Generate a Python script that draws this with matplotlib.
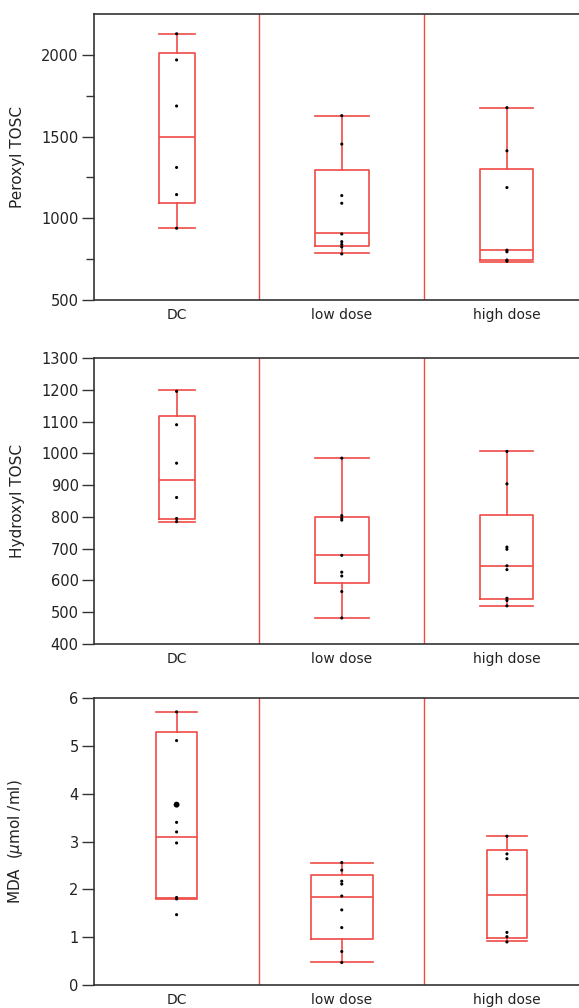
import numpy as np
import matplotlib.pyplot as plt

groups = ["DC", "low dose", "high dose"]

# Peroxyl TOSC
peroxyl_points = [
    [2129, 1969, 1687, 1311, 1145, 939],
    [1628, 1454, 1139, 1092, 904, 857, 840, 825, 782],
    [1677, 1413, 1188, 805, 795, 745, 737],
]
peroxyl_whislo = [939, 785, 735]
peroxyl_q1 = [1096, 830, 742]
peroxyl_med = [1500, 912, 804]
peroxyl_q3 = [2014, 1297, 1301]
peroxyl_whishi = [2129, 1628, 1677]

# Hydroxyl TOSC
hydroxyl_points = [
    [1195, 1090, 969, 861, 795, 785],
    [985, 804, 796, 790, 679, 626, 614, 565, 482],
    [1006, 904, 705, 698, 646, 634, 544, 537, 520],
]
hydroxyl_whislo = [785, 483, 521]
hydroxyl_q1 = [794, 591, 541]
hydroxyl_med = [917, 679, 644]
hydroxyl_q3 = [1116, 800, 807]
hydroxyl_whishi = [1198, 985, 1006]

# MDA
mda_points = [
    [5.71, 5.11, 3.77, 3.40, 3.20, 2.97, 1.83, 1.80, 1.47],
    [2.56, 2.40, 2.17, 2.11, 1.86, 1.57, 1.20, 0.70, 0.47],
    [3.11, 2.74, 2.64, 1.10, 1.01, 0.90],
]
mda_whislo = [1.80, 0.48, 0.92]
mda_q1 = [1.82, 0.97, 0.98]
mda_med = [3.10, 1.84, 1.88]
mda_q3 = [5.29, 2.29, 2.83]
mda_whishi = [5.71, 2.56, 3.12]

RED = "#f04a45"
SPINE = "#333333"
plt.rcParams["font.family"] = "DejaVu Sans"
plt.rcParams["font.size"] = 10

fig = plt.figure(figsize=(5.79, 10.08), dpi=100)
W, H = 579.0, 1008.0


def panel(top, bottom, points, wlo, q1, med, q3, whi, widths, ylim, yticks, minor, ylabel):
    ax = fig.add_axes([94 / W, 1 - bottom / H, (589.5 - 94) / W, (bottom - top) / H])
    pos = np.arange(len(groups))
    stats = []
    for i in range(len(groups)):
        stats.append(dict(whislo=wlo[i], q1=q1[i], med=med[i], q3=q3[i], whishi=whi[i], fliers=[]))
    line = dict(color=RED, linewidth=1.2)
    ax.bxp(stats, positions=pos, widths=widths, capwidths=widths, showfliers=False,
           boxprops=line, whiskerprops=line, capprops=line, medianprops=line)
    for i, pts in enumerate(points):
        # the doubled MDA value in DC shows as a heavier dot
        sizes = [18 if (ylabel.startswith("MDA") and i == 0 and v == 3.77) else 5 for v in pts]
        ax.scatter(np.full(len(pts), pos[i]), pts, s=sizes, color="black", marker="o",
                   linewidths=0, zorder=3)
    for sep in (0.5, 1.5):
        ax.axvline(sep, color=RED, linewidth=1.0)
    ax.set_xlim(-0.5, 2.5)
    ax.set_ylim(*ylim)
    ax.set_yticks(yticks)
    if minor is not None:
        ax.set_yticks(minor, minor=True)
    ax.set_xticks(pos)
    ax.set_xticklabels(groups, fontsize=10, color="#222222")
    ax.tick_params(axis="x", length=0, pad=6)
    ax.tick_params(axis="y", which="major", length=9, width=1, color=SPINE, labelsize=10.5,
                   labelcolor="#222222", pad=2)
    ax.tick_params(axis="y", which="minor", length=6, width=1, color=SPINE)
    for s in ("left", "bottom", "top"):
        ax.spines[s].set_color(SPINE)
        ax.spines[s].set_linewidth(1.2)
    ax.spines["right"].set_visible(False)
    ax.set_ylabel(ylabel, fontsize=11, color="#222222")
    ax.yaxis.set_label_coords(-69 / (589.5 - 94), 0.5)
    return ax


panel(14, 300, peroxyl_points, peroxyl_whislo, peroxyl_q1, peroxyl_med, peroxyl_q3, peroxyl_whishi,
      [36 / 165, 54 / 165, 53 / 165], (500, 2250), [500, 1000, 1500, 2000], [750, 1250, 1750],
      "Peroxyl TOSC")
panel(358, 644, hydroxyl_points, hydroxyl_whislo, hydroxyl_q1, hydroxyl_med, hydroxyl_q3, hydroxyl_whishi,
      [36 / 165, 54 / 165, 53 / 165], (400, 1300), np.arange(400, 1301, 100), None,
      "Hydroxyl TOSC")
panel(698, 985, mda_points, mda_whislo, mda_q1, mda_med, mda_q3, mda_whishi,
      [41 / 165, 62 / 165, 40 / 165], (0, 6), np.arange(0, 7, 1), None,
      r"MDA  ($\mu$mol /ml)")

fig.savefig("out.png", dpi=100)
